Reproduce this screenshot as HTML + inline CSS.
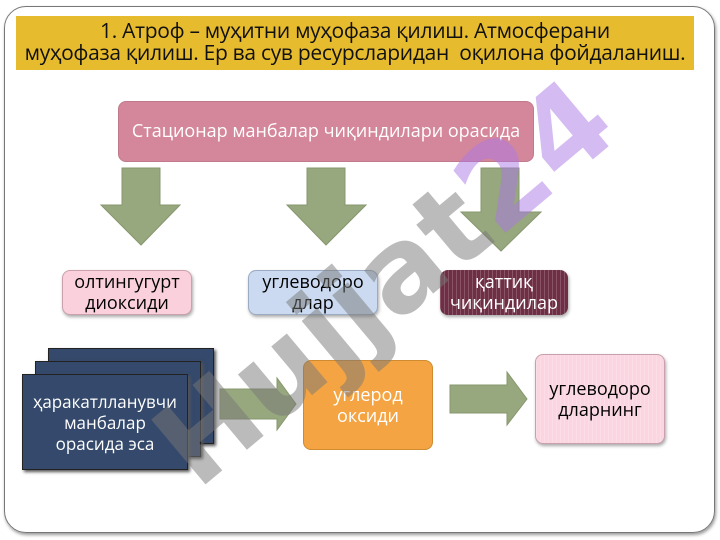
<!DOCTYPE html>
<html style="overflow:hidden;width:720px;height:540px"><head><meta charset="utf-8"><style>
body{margin:0;width:720px;height:540px;background:#fff;position:relative;overflow:hidden;font-family:"Open Sans","DejaVu Sans","Liberation Sans",sans-serif}
.a{position:absolute;box-sizing:border-box}
.frame{left:4px;top:6px;width:711px;height:527px;border:1.5px solid #777;border-radius:22px;box-shadow:1px 2px 3px #999}
.title{left:16px;top:16px;width:678px;height:54px;background:#e7bb2e;font-size:21px;line-height:22px;text-align:center;padding-top:4px;color:#111;white-space:nowrap;letter-spacing:-0.3px}
.box{border-radius:8px;text-align:center;display:flex;align-items:center;justify-content:center;font-size:18px;line-height:21px}
.str{background-image:repeating-linear-gradient(90deg,rgba(255,255,255,.18) 0 1px,transparent 1px 4px)}
.card{background:#34496b;border:1px solid #222;box-shadow:2px 2px 3px #555}
</style></head><body>
<div class="a frame"></div>
<div class="a title">1. Атроф – муҳитни муҳофаза қилиш. Атмосферани<br>муҳофаза қилиш. Ер ва сув ресурсларидан&nbsp; оқилона фойдаланиш.</div>
<div class="a box" style="left:118px;top:101px;width:416px;height:61px;background:#d4879a;color:#fff;font-size:18px;border:1px solid #c07a8b;white-space:nowrap">Стационар манбалар чиқиндилари орасида</div>
<svg class="a" style="left:0;top:0" width="720" height="540">
<g fill="#97a77e" stroke="#87976e">
<polygon points="122,168 160,168 160,205 180,205 141,245 101,205 122,205"/>
<polygon points="307,168 345,168 345,205 366,205 326,245 287,205 307,205"/>
<polygon points="481,168 519,168 519,212 541,212 501,251 461,212 481,212"/>
<polygon points="220,389 277,389 277,378 296,404 277,430 277,419 220,419"/>
<polygon points="450,385 507,385 507,372 527,399 507,425 507,413 450,413"/>
</g>
</svg>
<div class="a box" style="left:62px;top:270px;width:130px;height:45px;background:#f9d0dc;border:1px solid #c9a0ac;box-shadow:1px 2px 3px #aaa">олтингугурт<br>диоксиди</div>
<div class="a box" style="left:248px;top:270px;width:130px;height:45px;background:#cbdaf0;border:1px solid #9aabc3;box-shadow:1px 2px 3px #aaa">углеводоро<br>длар</div>
<div class="a box str" style="left:440px;top:270px;width:128px;height:45px;background-color:#6e2e45;color:#fff;box-shadow:1px 2px 3px #aaa">қаттиқ<br>чиқиндилар</div>
<div class="a card str" style="left:48px;top:348px;width:166px;height:96px"></div>
<div class="a card str" style="left:35px;top:361px;width:166px;height:96px"></div>
<div class="a box card str" style="left:22px;top:374px;width:166px;height:96px;border-radius:0;color:#fff;background-color:#34496b;font-size:17px;white-space:nowrap">ҳаракатлланувчи<br>манбалар<br>орасида эса</div>
<div class="a box" style="left:303px;top:360px;width:130px;height:90px;background:#f4a442;color:#fff;border:1px solid #d08a30;align-items:flex-start;padding-top:24px">углерод<br>оксиди</div>
<div class="a box str" style="left:535px;top:354px;width:130px;height:90px;background-color:#fbd5e0;border:1px solid #c9a0ac;box-shadow:1px 2px 3px #aaa;align-items:flex-start;padding-top:24px">углеводоро<br>дларнинг</div>
<div class="a" style="font:bold 116px 'DejaVu Sans',sans-serif;color:rgba(120,120,120,.5);transform:rotate(-40deg);transform-origin:0 0;left:135px;top:417px;white-space:nowrap;line-height:1">Hujjat<span style="color:rgba(170,120,230,.5)">24</span></div>
</body></html>
